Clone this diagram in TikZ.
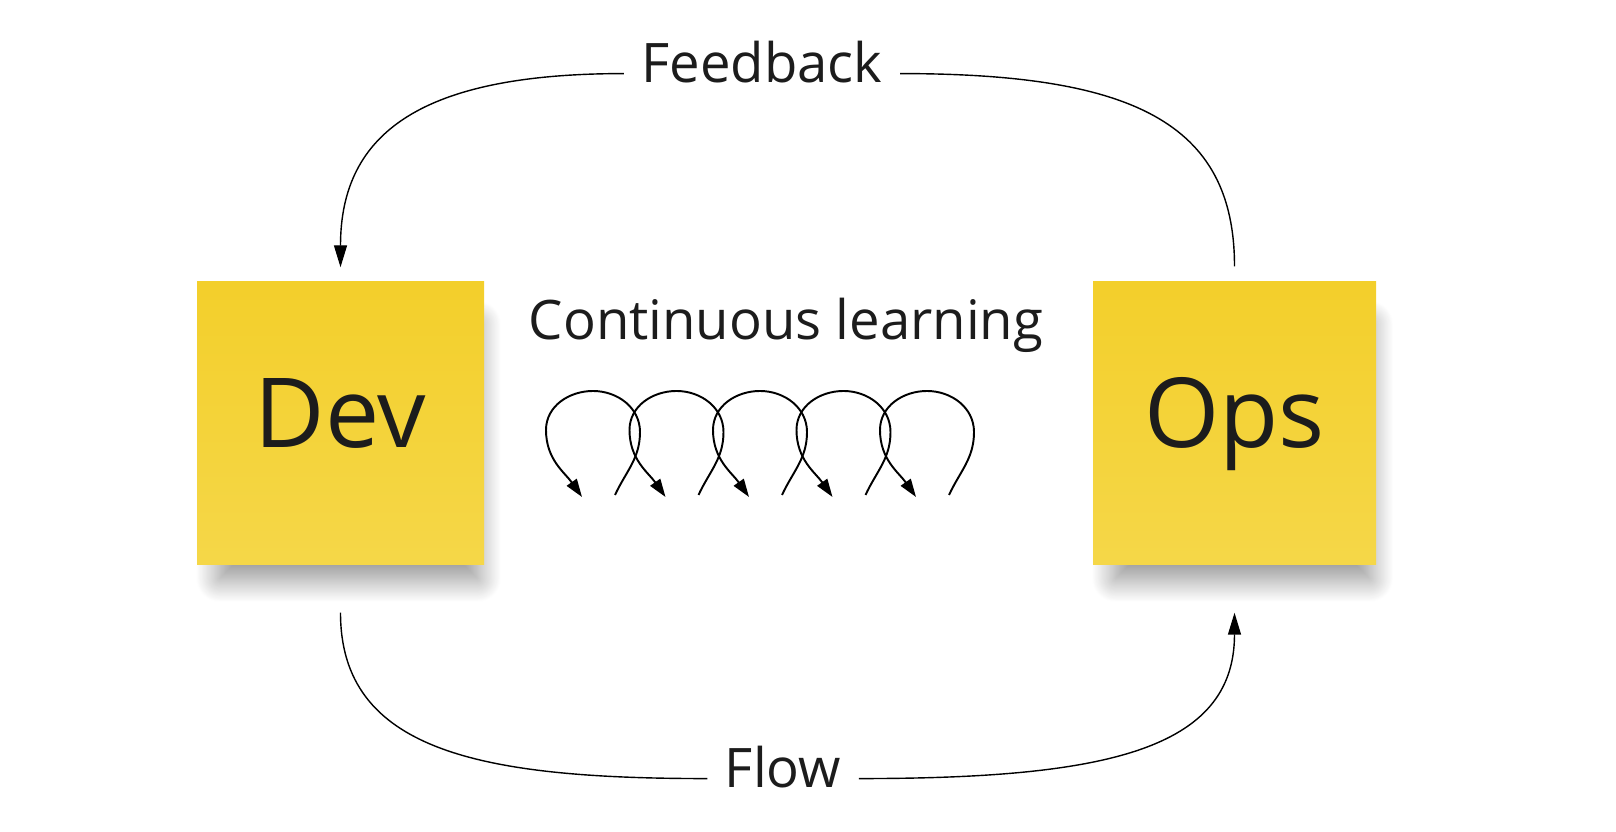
\documentclass[tikz,border=0pt]{standalone}
\usepackage{fontspec}
\setmainfont{Open Sans}
\usetikzlibrary{arrows.meta,shadows.blur}
\definecolor{notetop}{RGB}{243,207,43}
\definecolor{notebottom}{RGB}{245,215,72}
\definecolor{ink}{RGB}{28,28,28}
\begin{document}
\begin{tikzpicture}[
    note/.style={rectangle, inner sep=0pt, top color=notetop, bottom color=notebottom, text=ink,
        font=\fontsize{27.5}{32}\selectfont, text height=7.1mm, text depth=2.3mm,
        blur shadow={shadow xshift=0.9mm, shadow yshift=-3.1mm, shadow scale=0.9,
            shadow blur radius=2.6mm, shadow blur steps=30, shadow opacity=45}},
    caption/.style={inner xsep=1.7mm, inner ysep=0pt, anchor=base, text=ink, font=\fontsize{15.5}{19}\selectfont},
    link/.style={thin, black, -{Triangle[length=2.2mm,width=1.3mm]}},
    swirl/.style={line width=0.55pt, black, -{Triangle[length=1.8mm,width=1.2mm]}}
    ]
        \useasboundingbox (0,0) rectangle (16.16,8.32);
        \node [note, minimum width=2.87cm, minimum height=2.83cm] (dev) at (3.405,4.085) {Dev};
        \node [note, minimum width=2.83cm, minimum height=2.83cm] (ops) at (12.345,4.085) {Ops};
        \node [caption] (fb) at (7.62,7.49) {Feedback};
        \node [caption] (flow) at (7.83,0.44) {Flow};
        \node [caption] (learn) at (7.86,4.92) {Continuous learning};
        \draw [link, shorten >=1.4mm] (fb.mid west) .. controls +(-2.0,0) and +(0,1.5) .. (dev.north);
        \draw [thin] (ops.north) ++(0,0.15) .. controls +(0,1.45) and +(2.3,0) .. (fb.mid east);
        \draw [thin] (dev.south) ++(0,-0.47) .. controls +(0,-1.38) and +(-2.28,0) .. (flow.mid west);
        \draw [link, shorten >=4.7mm] (flow.mid east) .. controls +(2.45,0) and +(0,-1.85) .. (ops.south);
        \foreach \i in {0,...,4}
            \draw [swirl, xshift=\i*0.835cm] (6.15,3.37) to[out=65,in=-90] (6.40,4.00) to[out=90,in=0] (5.93,4.41)
                to[out=180,in=90] (5.46,4.02) to[out=-90,in=125] (5.82,3.35);
\end{tikzpicture}
\end{document}
